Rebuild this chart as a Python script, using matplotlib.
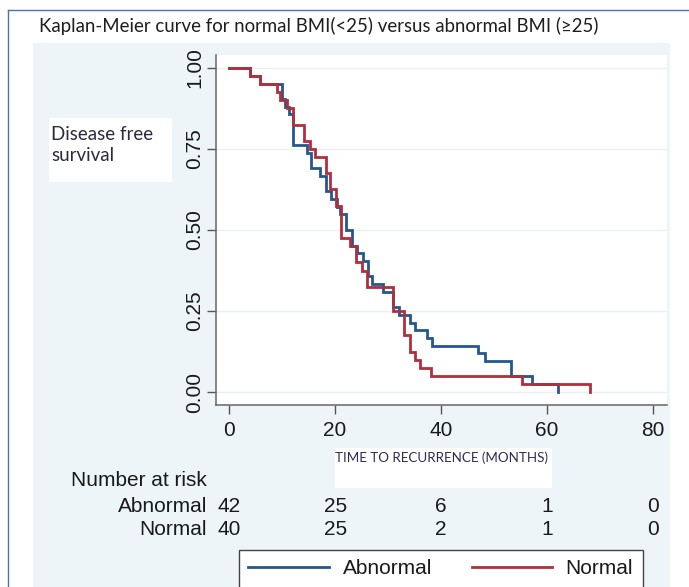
import matplotlib
matplotlib.use("Agg")
import matplotlib.pyplot as plt
from matplotlib.patches import Rectangle
from matplotlib.lines import Line2D
from matplotlib.transforms import blended_transform_factory

# ---------------- data ----------------
abn_time = [0, 4.0, 5.9, 9.9, 10.6, 11.4, 12.1, 14.8, 15.4, 17.2, 18.2, 19.2, 20.3, 21.0,
            22.1, 23.1, 24.1, 25.3, 26.3, 26.9, 29.1, 31.0, 32.0, 34.2, 35.1, 37.3, 38.2,
            47.0, 48.3, 53.2, 57.2, 62.1]
abn_surv = [1.0, 0.976, 0.952, 0.905, 0.881, 0.857, 0.762, 0.738, 0.690, 0.667, 0.619, 0.595,
            0.571, 0.548, 0.500, 0.452, 0.429, 0.405, 0.357, 0.333, 0.310, 0.262, 0.238, 0.214,
            0.190, 0.167, 0.143, 0.119, 0.095, 0.048, 0.024, 0.0]

nor_time = [0, 4.0, 5.9, 9.0, 9.6, 11.0, 12.1, 14.1, 15.2, 16.3, 18.2, 19.1, 20.2, 21.1, 22.8,
            23.9, 25.0, 26.0, 31.0, 33.0, 34.2, 35.1, 36.0, 38.0, 55.2, 68.1]
nor_surv = [1.0, 0.975, 0.95, 0.925, 0.90, 0.875, 0.825, 0.775, 0.75, 0.725, 0.675, 0.625,
            0.575, 0.475, 0.45, 0.40, 0.375, 0.325, 0.25, 0.175, 0.125, 0.10, 0.075, 0.05,
            0.025, 0.0]

risk_times = [0, 20, 40, 60, 80]
risk_abn = [42, 25, 6, 1, 0]
risk_nor = [40, 25, 2, 1, 0]

x_ticks = [0, 20, 40, 60, 80]
y_ticks = [0.0, 0.25, 0.50, 0.75, 1.00]
y_ticklabels = ["0.00", "0.25", "0.50", "0.75", "1.00"]

title = "Kaplan-Meier curve for normal BMI(<25) versus abnormal BMI (\u226525)"
ylabel = "Disease free\nsurvival"
xlabel = "TIME TO RECURRENCE (MONTHS)"
labels = ["Abnormal", "Normal"]

# ---------------- style ----------------
W, H = 689, 587
BLUE = "#25578f"
RED = "#b02f3c"
PANEL = "#eef5f8"
ARIAL = "Liberation Sans"
CAL = "Lato"

def fx(x):
    return x / W

def fy(y):
    return 1 - y / H

fig = plt.figure(figsize=(W / 100, H / 100), dpi=100, facecolor="white")

# background panel and frame lines
fig.patches.append(Rectangle((fx(33), 0), fx(670) - fx(33), fy(43), transform=fig.transFigure,
                             facecolor=PANEL, edgecolor="none", zorder=-10))
fig.add_artist(Line2D([fx(8), 1], [fy(10), fy(10)], color="#4a72b8", lw=1.0, zorder=5))
fig.add_artist(Line2D([fx(8), fx(8)], [0, fy(10)], color="#4a72b8", lw=1.0, zorder=5))

left, right, bottom, top = 216.5, 667, 405, 55
ax = fig.add_axes([fx(left), fy(bottom), fx(right) - fx(left), fy(top) - fy(bottom)])
ax.set_facecolor("white")

ax.plot(abn_time, abn_surv, drawstyle="steps-post", color=BLUE, lw=2.0, solid_joinstyle="miter",
        label=labels[0], zorder=3)
ax.plot(nor_time, nor_surv, drawstyle="steps-post", color=RED, lw=2.0, solid_joinstyle="miter",
        label=labels[1], zorder=4)

ax.set_xlim(-2.36, 82.6)
ax.set_ylim(-0.040, 1.040)
ax.set_xticks(x_ticks)
ax.set_yticks(y_ticks)
ax.set_yticklabels(y_ticklabels)
ax.grid(axis="y", color="#eaf1f4", lw=1.0, zorder=0)
ax.set_axisbelow(True)

for s in ["top", "right"]:
    ax.spines[s].set_visible(False)
for s in ["left", "bottom"]:
    ax.spines[s].set_color("#666666")
    ax.spines[s].set_linewidth(1.1)

ax.tick_params(axis="both", direction="out", length=6.5, width=1.0, color="#555555",
               labelsize=15, labelcolor="#1a1a1a")
ax.tick_params(axis="x", pad=5)
ax.tick_params(axis="y", pad=2.5)
for lab in ax.get_xticklabels() + ax.get_yticklabels():
    lab.set_fontfamily(ARIAL)
for lab in ax.get_yticklabels():
    lab.set_rotation(90)
    lab.set_va("center")
    lab.set_ha("right")

# title
t_title = fig.text(fx(39), fy(26), title, ha="left", va="center", fontfamily=CAL,
                   fontsize=14, color="#1e1e1e")
# y label box
t_ylab = fig.text(fx(51), fy(145), ylabel, ha="left", va="center", fontfamily=CAL,
                  fontsize=13.5, color="#2b2b40", linespacing=1.35)
fig.patches.append(Rectangle((fx(49), fy(182)), fx(172) - fx(49), fy(118) - fy(182),
                             transform=fig.transFigure, facecolor="white", edgecolor="none",
                             zorder=-5))
# x label box
fig.patches.append(Rectangle((fx(335), fy(488)), fx(552) - fx(335), fy(448) - fy(488),
                             transform=fig.transFigure, facecolor="white", edgecolor="none",
                             zorder=-5))
t_xlab = fig.text(fx(335), fy(458), xlabel, ha="left", va="center", fontfamily=CAL,
                  fontsize=9, color="#2e2b55")

# fit widths of the Calibri-like texts
fig.canvas.draw()
r = fig.canvas.get_renderer()
for t, target in [(t_title, 560), (t_xlab, 212)]:
    w = t.get_window_extent(r).width
    t.set_fontsize(t.get_fontsize() * target / w)

# number at risk table
fig.text(fx(70.7), fy(481), "Number at risk", ha="left", va="center", fontfamily=ARIAL,
         fontsize=15, color="#1a1a1a")
fig.text(fx(207), fy(506), labels[0], ha="right", va="center", fontfamily=ARIAL,
         fontsize=15, color="#1a1a1a")
fig.text(fx(207), fy(529.5), labels[1], ha="right", va="center", fontfamily=ARIAL,
         fontsize=15, color="#1a1a1a")
btr = blended_transform_factory(ax.transData, fig.transFigure)
for tt, a, n in zip(risk_times, risk_abn, risk_nor):
    ax.text(tt, fy(506), str(a), transform=btr, ha="center", va="center", fontfamily=ARIAL,
            fontsize=15, color="#1a1a1a", clip_on=False)
    ax.text(tt, fy(529.5), str(n), transform=btr, ha="center", va="center", fontfamily=ARIAL,
            fontsize=15, color="#1a1a1a", clip_on=False)

# legend
h1 = Line2D([], [], color=BLUE, lw=2.0)
h2 = Line2D([], [], color=RED, lw=2.0)
leg = fig.legend([h1, h2], labels, loc="upper left", bbox_to_anchor=(fx(239), fy(550)),
                 bbox_transform=fig.transFigure, ncol=2, frameon=True, fancybox=False,
                 edgecolor="#444444", facecolor="white", framealpha=1, borderaxespad=0,
                 handlelength=3.85, handletextpad=0.67, columnspacing=1.9, borderpad=0.45,
                 prop={"family": ARIAL, "size": 15})
leg.get_frame().set_linewidth(1.0)
for txt in leg.get_texts():
    txt.set_color("#1a1a1a")

fig.savefig("out.png", dpi=100, facecolor="white")
